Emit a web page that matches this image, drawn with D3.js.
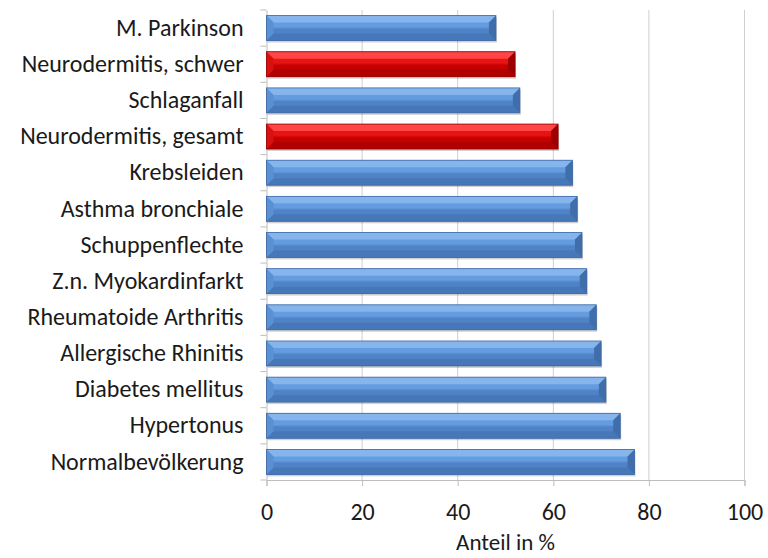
<!DOCTYPE html>
<html><head><meta charset="utf-8">
<script src="https://cdn.jsdelivr.net/npm/d3@7"></script>
<style>
html,body{margin:0;padding:0;background:#fff;}
text{font-family:Carlito, Lato, "Open Sans", sans-serif;fill:#1a1a1a;}
</style></head>
<body><svg id="c" width="768" height="558"></svg>
<script>
const categories = ["M. Parkinson","Neurodermitis, schwer","Schlaganfall","Neurodermitis, gesamt","Krebsleiden","Asthma bronchiale","Schuppenflechte ","Z.n. Myokardinfarkt","Rheumatoide Arthritis","Allergische Rhinitis","Diabetes mellitus","Hypertonus","Normalbevölkerung"];
const values = [48,52,53,61,64,65,66,67,69,70,71,74,77];
const highlight = [false,true,false,true,false,false,false,false,false,false,false,false,false];
const xTicks = [0,20,40,60,80,100];
const xTitle = "Anteil in %";

const FS = 24;
const svg = d3.select("#c");
const M = {left:266.5, right:744.5, top:10, bottom:480};
const x = d3.scaleLinear().domain([0,100]).range([M.left, M.right]);
const y = d3.scaleBand().domain(categories).range([M.top, M.bottom]).paddingInner(0.31).paddingOuter(0.155);

const pal = {
  blue:{top:"#86b5ee", up:"#649ce0", low:"#4f83c6", bot:"#4677b8", right:"#3f6eab", left:"#5a90d4", stroke:"#3c68a3"},
  red:{top:"#ff4545", up:"#e81414", low:"#c40000", bot:"#b00000", right:"#9c0000", left:"#d81010", stroke:"#8f0000"}
};

// gridlines
svg.append("g").selectAll("line").data(xTicks.filter(d=>d>0)).join("line")
  .attr("x1",d=>x(d)).attr("x2",d=>x(d)).attr("y1",M.top).attr("y2",M.bottom)
  .attr("stroke","#cfcfcf").attr("stroke-width",1);

// x axis
const xa = svg.append("g").attr("transform",`translate(0,${M.bottom})`)
  .call(d3.axisBottom(x).tickValues(xTicks).tickSize(6).tickPadding(17));
xa.select(".domain").attr("stroke","#bdbdbd");
xa.selectAll(".tick line").attr("stroke","#bdbdbd");
xa.selectAll("text").attr("font-size",FS).style("font-family","Carlito, Lato, 'Open Sans', sans-serif").attr("fill","#1a1a1a");

// y axis
const ya = svg.append("g").attr("transform",`translate(${M.left},0)`)
  .call(d3.axisLeft(y).tickSize(0).tickPadding(23));
ya.select(".domain").attr("stroke","#bdbdbd");
ya.selectAll("text").attr("font-size",FS).style("font-family","Carlito, Lato, 'Open Sans', sans-serif").attr("fill","#1a1a1a");
// category boundary ticks
const step = y.step();
svg.append("g").selectAll("line").data(d3.range(categories.length+1)).join("line")
  .attr("x1",M.left-6).attr("x2",M.left)
  .attr("y1",i=>M.top+i*step).attr("y2",i=>M.top+i*step)
  .attr("stroke","#bdbdbd");

// bars
const defs = svg.append("defs");
["blue","red"].forEach(k=>{
  const g = defs.append("linearGradient").attr("id","g_"+k).attr("x1",0).attr("x2",0).attr("y1",0).attr("y2",1);
  g.append("stop").attr("offset","0%").attr("stop-color",pal[k].up);
  g.append("stop").attr("offset","45%").attr("stop-color",pal[k].up);
  g.append("stop").attr("offset","55%").attr("stop-color",pal[k].low);
  g.append("stop").attr("offset","100%").attr("stop-color",pal[k].low);
});
const bars = svg.append("g").selectAll("g").data(categories.map((c,i)=>({c,v:values[i],h:highlight[i]}))).join("g");
bars.each(function(d){
  const g = d3.select(this);
  const p = pal[d.h?"red":"blue"];
  const x0 = x(0), x1 = x(d.v), y0 = y(d.c), y1 = y(d.c)+y.bandwidth();
  const b = 7;
  g.append("rect").attr("x",x0+1).attr("y",y0+2).attr("width",x1-x0).attr("height",y1-y0).attr("fill","rgba(0,0,0,0.18)");
  g.append("rect").attr("x",x0).attr("y",y0).attr("width",x1-x0).attr("height",y1-y0).attr("fill",`url(#g_${d.h?"red":"blue"})`);
  g.append("polygon").attr("points",[[x0,y0],[x1,y0],[x1-b,y0+b],[x0+b,y0+b]].join(" ")).attr("fill",p.top);
  g.append("polygon").attr("points",[[x0,y1],[x1,y1],[x1-b,y1-b],[x0+b,y1-b]].join(" ")).attr("fill",p.bot);
  g.append("polygon").attr("points",[[x1,y0],[x1,y1],[x1-b,y1-b],[x1-b,y0+b]].join(" ")).attr("fill",p.right);
  g.append("polygon").attr("points",[[x0,y0],[x0,y1],[x0+b,y1-b],[x0+b,y0+b]].join(" ")).attr("fill",p.left);
  g.append("rect").attr("x",x0).attr("y",y0).attr("width",x1-x0).attr("height",y1-y0).attr("fill","none").attr("stroke",p.stroke).attr("stroke-width",0.8);
});

// axis title
svg.append("text").attr("x",(M.left+M.right)/2).attr("y",550).attr("text-anchor","middle").attr("font-size",23).text(xTitle);
</script></body></html>
